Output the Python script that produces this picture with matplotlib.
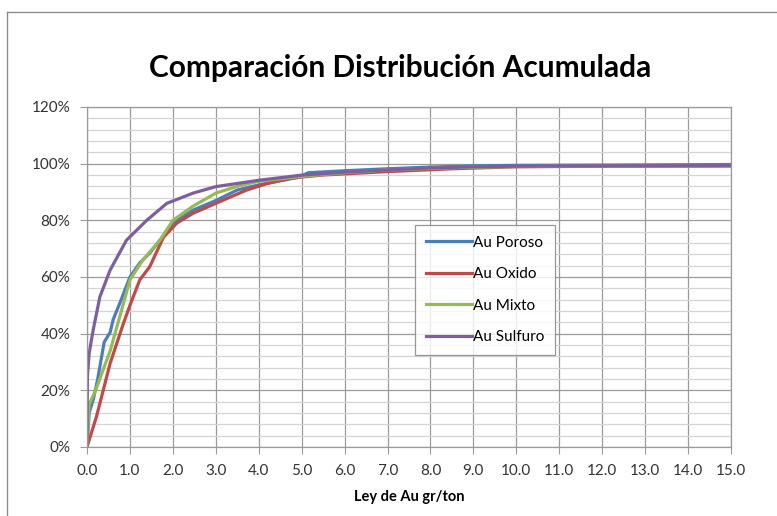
import matplotlib
matplotlib.use("Agg")
import matplotlib.pyplot as plt
from matplotlib.lines import Line2D
from matplotlib.ticker import MultipleLocator, FuncFormatter

plt.rcParams['font.family'] = ['Lato', 'DejaVu Sans']

title = "Comparación Distribución Acumulada"
xlabel = "Ley de Au gr/ton"

poroso_x = [0.0, 0.05, 0.15, 0.25, 0.33, 0.4, 0.54, 0.61, 0.77, 1.0, 1.23, 1.46, 1.7, 2.0, 2.47, 3.0, 3.5, 4.0, 4.5, 4.95, 5.15, 6.0, 7.0, 8.0, 9.0, 10.0, 12.0, 15.0]
poroso_y = [0.0, 12.0, 17.0, 24.0, 31.0, 37.0, 40.5, 45.0, 51.0, 60.0, 65.0, 68.4, 73.0, 79.0, 83.6, 87.0, 90.7, 92.5, 94.0, 95.2, 96.8, 97.5, 98.2, 98.8, 99.2, 99.4, 99.5, 99.7]

oxido_x = [0.0, 0.22, 0.54, 0.85, 1.0, 1.23, 1.46, 1.78, 2.09, 2.47, 3.0, 3.72, 4.2, 4.8, 5.5, 7.0, 8.5, 10.0, 12.0, 15.0]
oxido_y = [0.0, 10.7, 29.6, 43.7, 50.0, 59.0, 63.6, 74.0, 79.0, 82.5, 86.0, 90.7, 93.0, 95.0, 96.0, 97.2, 98.2, 98.9, 99.1, 99.2]

mixto_x = [0.0, 0.05, 0.2, 0.54, 0.8, 1.0, 1.3, 1.7, 2.0, 2.47, 3.0, 3.5, 4.0, 5.0, 6.0, 7.0, 8.5, 10.0, 12.0, 15.0]
mixto_y = [0.0, 15.0, 20.0, 34.0, 48.0, 59.0, 66.0, 73.0, 80.0, 85.0, 89.6, 92.0, 93.8, 95.5, 96.8, 97.8, 98.6, 99.0, 99.1, 99.2]

sulfuro_x = [0.0, 0.01, 0.05, 0.14, 0.30, 0.54, 0.92, 1.39, 1.86, 2.47, 3.0, 4.03, 5.03, 6.0, 7.0, 8.0, 9.0, 10.0, 12.0, 15.0]
sulfuro_y = [0.0, 25.0, 33.0, 41.0, 53.0, 62.5, 73.0, 80.0, 86.0, 89.6, 91.9, 94.2, 96.0, 97.0, 97.8, 98.5, 98.9, 99.1, 99.2, 99.3]

series = [
    ("Au Poroso", poroso_x, poroso_y, "#4A7EBB"),
    ("Au Oxido", oxido_x, oxido_y, "#BE4B48"),
    ("Au Mixto", mixto_x, mixto_y, "#98B954"),
    ("Au Sulfuro", sulfuro_x, sulfuro_y, "#7D5FA0"),
]

fig = plt.figure(figsize=(7.77, 5.16), dpi=100)
ax = fig.add_axes([87/777, 69/516, 644/777, 340/516])

for name, xs, ys, c in series:
    ax.plot(xs, ys, color=c, lw=2.3, label=name, solid_joinstyle='round')

ax.set_xlim(0, 15)
ax.set_ylim(0, 120)
ax.xaxis.set_major_locator(MultipleLocator(1))
ax.yaxis.set_major_locator(MultipleLocator(20))
ax.yaxis.set_minor_locator(MultipleLocator(4))
ax.xaxis.set_major_formatter(FuncFormatter(lambda v, p: f"{v:.1f}"))
ax.yaxis.set_major_formatter(FuncFormatter(lambda v, p: f"{v:.0f}%"))
ax.grid(True, which='major', axis='both', color='#9a9a9a', lw=0.9)
ax.grid(True, which='minor', axis='y', color='#d4d4d4', lw=0.9)
ax.set_axisbelow(True)
for s in ax.spines.values():
    s.set_color('#9a9a9a')
    s.set_linewidth(0.9)
ax.tick_params(axis='both', which='major', direction='out', length=5, color='#9a9a9a',
               labelsize=11, labelcolor='#333333', pad=7)
ax.tick_params(axis='y', which='minor', length=0)

ax.set_xlabel(xlabel, fontsize=10.5, fontweight='bold', labelpad=9)
fig.text(400/777, 1 - 68/516, title, fontsize=21.5, fontweight='bold', ha='center', va='center')

leg = ax.legend(loc='upper left', bbox_to_anchor=((415-87)/644, (447-225)/340),
                frameon=True, fancybox=False, fontsize=11, handlelength=3.0,
                handletextpad=0.1, labelspacing=1.15, borderpad=0.7, borderaxespad=0)
leg.get_frame().set_edgecolor('#7f7f7f')
leg.get_frame().set_linewidth(0.9)

fig.add_artist(Line2D([7/777, 7/777], [0, 1 - 12/516], color='#8c8c8c', lw=1.0, transform=fig.transFigure))
fig.add_artist(Line2D([7/777, 1], [1 - 12/516, 1 - 12/516], color='#8c8c8c', lw=1.0, transform=fig.transFigure))

fig.savefig("out.png", dpi=100)
